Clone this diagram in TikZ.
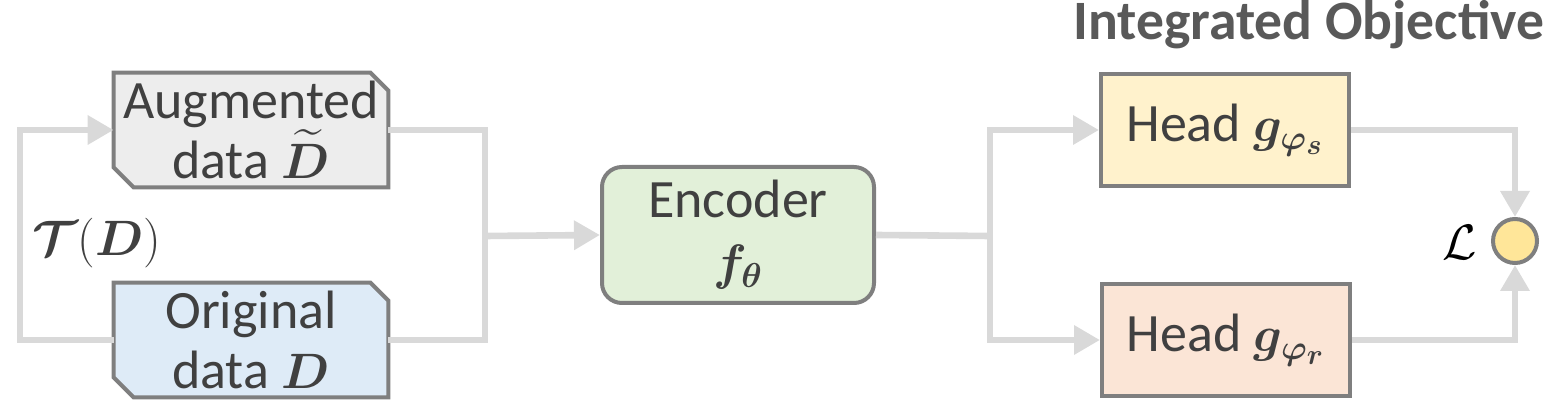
\documentclass[tikz,border=0pt]{standalone}
\usepackage{fontspec}
\setmainfont{Carlito}
\usepackage{amsmath,bm}
\usetikzlibrary{arrows.meta,backgrounds}
\definecolor{augfill}{HTML}{EDEDED}
\definecolor{origfill}{HTML}{DEEBF7}
\definecolor{encfill}{HTML}{E2F0D9}
\definecolor{headsfill}{HTML}{FFF2CC}
\definecolor{headrfill}{HTML}{FBE5D6}
\definecolor{lossfill}{HTML}{FFE699}
\definecolor{edge}{HTML}{7F7F7F}
\definecolor{linkgray}{HTML}{D9D9D9}
\definecolor{txt}{HTML}{404040}
\definecolor{titlegray}{HTML}{595959}
\begin{document}
\begin{tikzpicture}[x=0.5pt,y=-0.5pt,
    every node/.style={text=txt,font=\fontsize{27}{31}\selectfont},
    databox/.style={rectangle,minimum width=137pt,minimum height=57pt,
      inner sep=0pt,align=center},
    encbox/.style={rectangle,rounded corners=10pt,draw=edge,line width=2pt,fill=encfill,
      minimum width=136pt,minimum height=68pt,inner sep=0pt,align=center},
    headbox/.style={rectangle,draw=edge,line width=2pt,minimum width=124pt,
      minimum height=56pt,inner sep=0pt},
    lossdot/.style={circle,draw=edge,line width=2pt,fill=lossfill,minimum size=22pt,inner sep=0pt},
    link/.style={draw=linkgray,line width=3.3pt},
    arr/.style={link,-{Triangle[width=14pt,length=13pt]}}]
  \useasboundingbox (0,0) rectangle (1558,416);

  % data boxes
  \node[databox] (aug) at (251,130) {Augmented\\[-1pt]data $\widetilde{\bm{D}}$};
  \node[databox] (orig) at (251,340) {Original\\[-1pt]data $\bm{D}$};
  \node (tf) at (97,243) {$\bm{\mathcal{T}}(\bm{D})$};
  \begin{scope}[on background layer]
    \foreach \n/\c in {aug/augfill,orig/origfill}
      \draw[draw=edge,line width=2pt,fill=\c] (\n.north west) -- ([xshift=-9pt]\n.north east)
        -- ([yshift=-9pt]\n.north east) -- (\n.south east) -- ([xshift=10pt]\n.south west)
        -- ([yshift=10pt]\n.south west) -- cycle;
  \end{scope}

  % encoder
  \node[encbox] (enc) at (738,235) {Encoder\\$\bm{f}_{\bm{\theta}}$};

  % heads and loss
  \node[headbox,fill=headsfill] (hs) at (1225,130) {Head $\bm{g}_{\bm{\varphi_s}}$};
  \node[headbox,fill=headrfill] (hr) at (1226,340) {Head $\bm{g}_{\bm{\varphi_r}}$};
  \node[lossdot] (loss) at (1515,241) {};
  \node[text=black] (lbl) at (1460,243) {$\mathcal{L}$};
  \node[font=\fontsize{27.8}{32}\selectfont\bfseries,text=titlegray] (title) at (1309,25) {Integrated Objective};

  \coordinate (tl) at (20,236);
  \coordinate (jin) at (485,236);
  \coordinate (jout) at (990,236);

  \draw[arr] (orig.west) -| (tl) |- (aug.west);
  \draw[link] (aug.east) -| (jin) |- (orig.east);
  \draw[arr] (jin) -- (enc.west);
  \draw[link] (enc.east) -- (jout);
  \draw[arr] (jout) |- (hs.west);
  \draw[arr] (jout) |- (hr.west);
  \draw[arr] (hs.east) -| (loss.north);
  \draw[arr] (hr.east) -| (loss.south);
\end{tikzpicture}
\end{document}
